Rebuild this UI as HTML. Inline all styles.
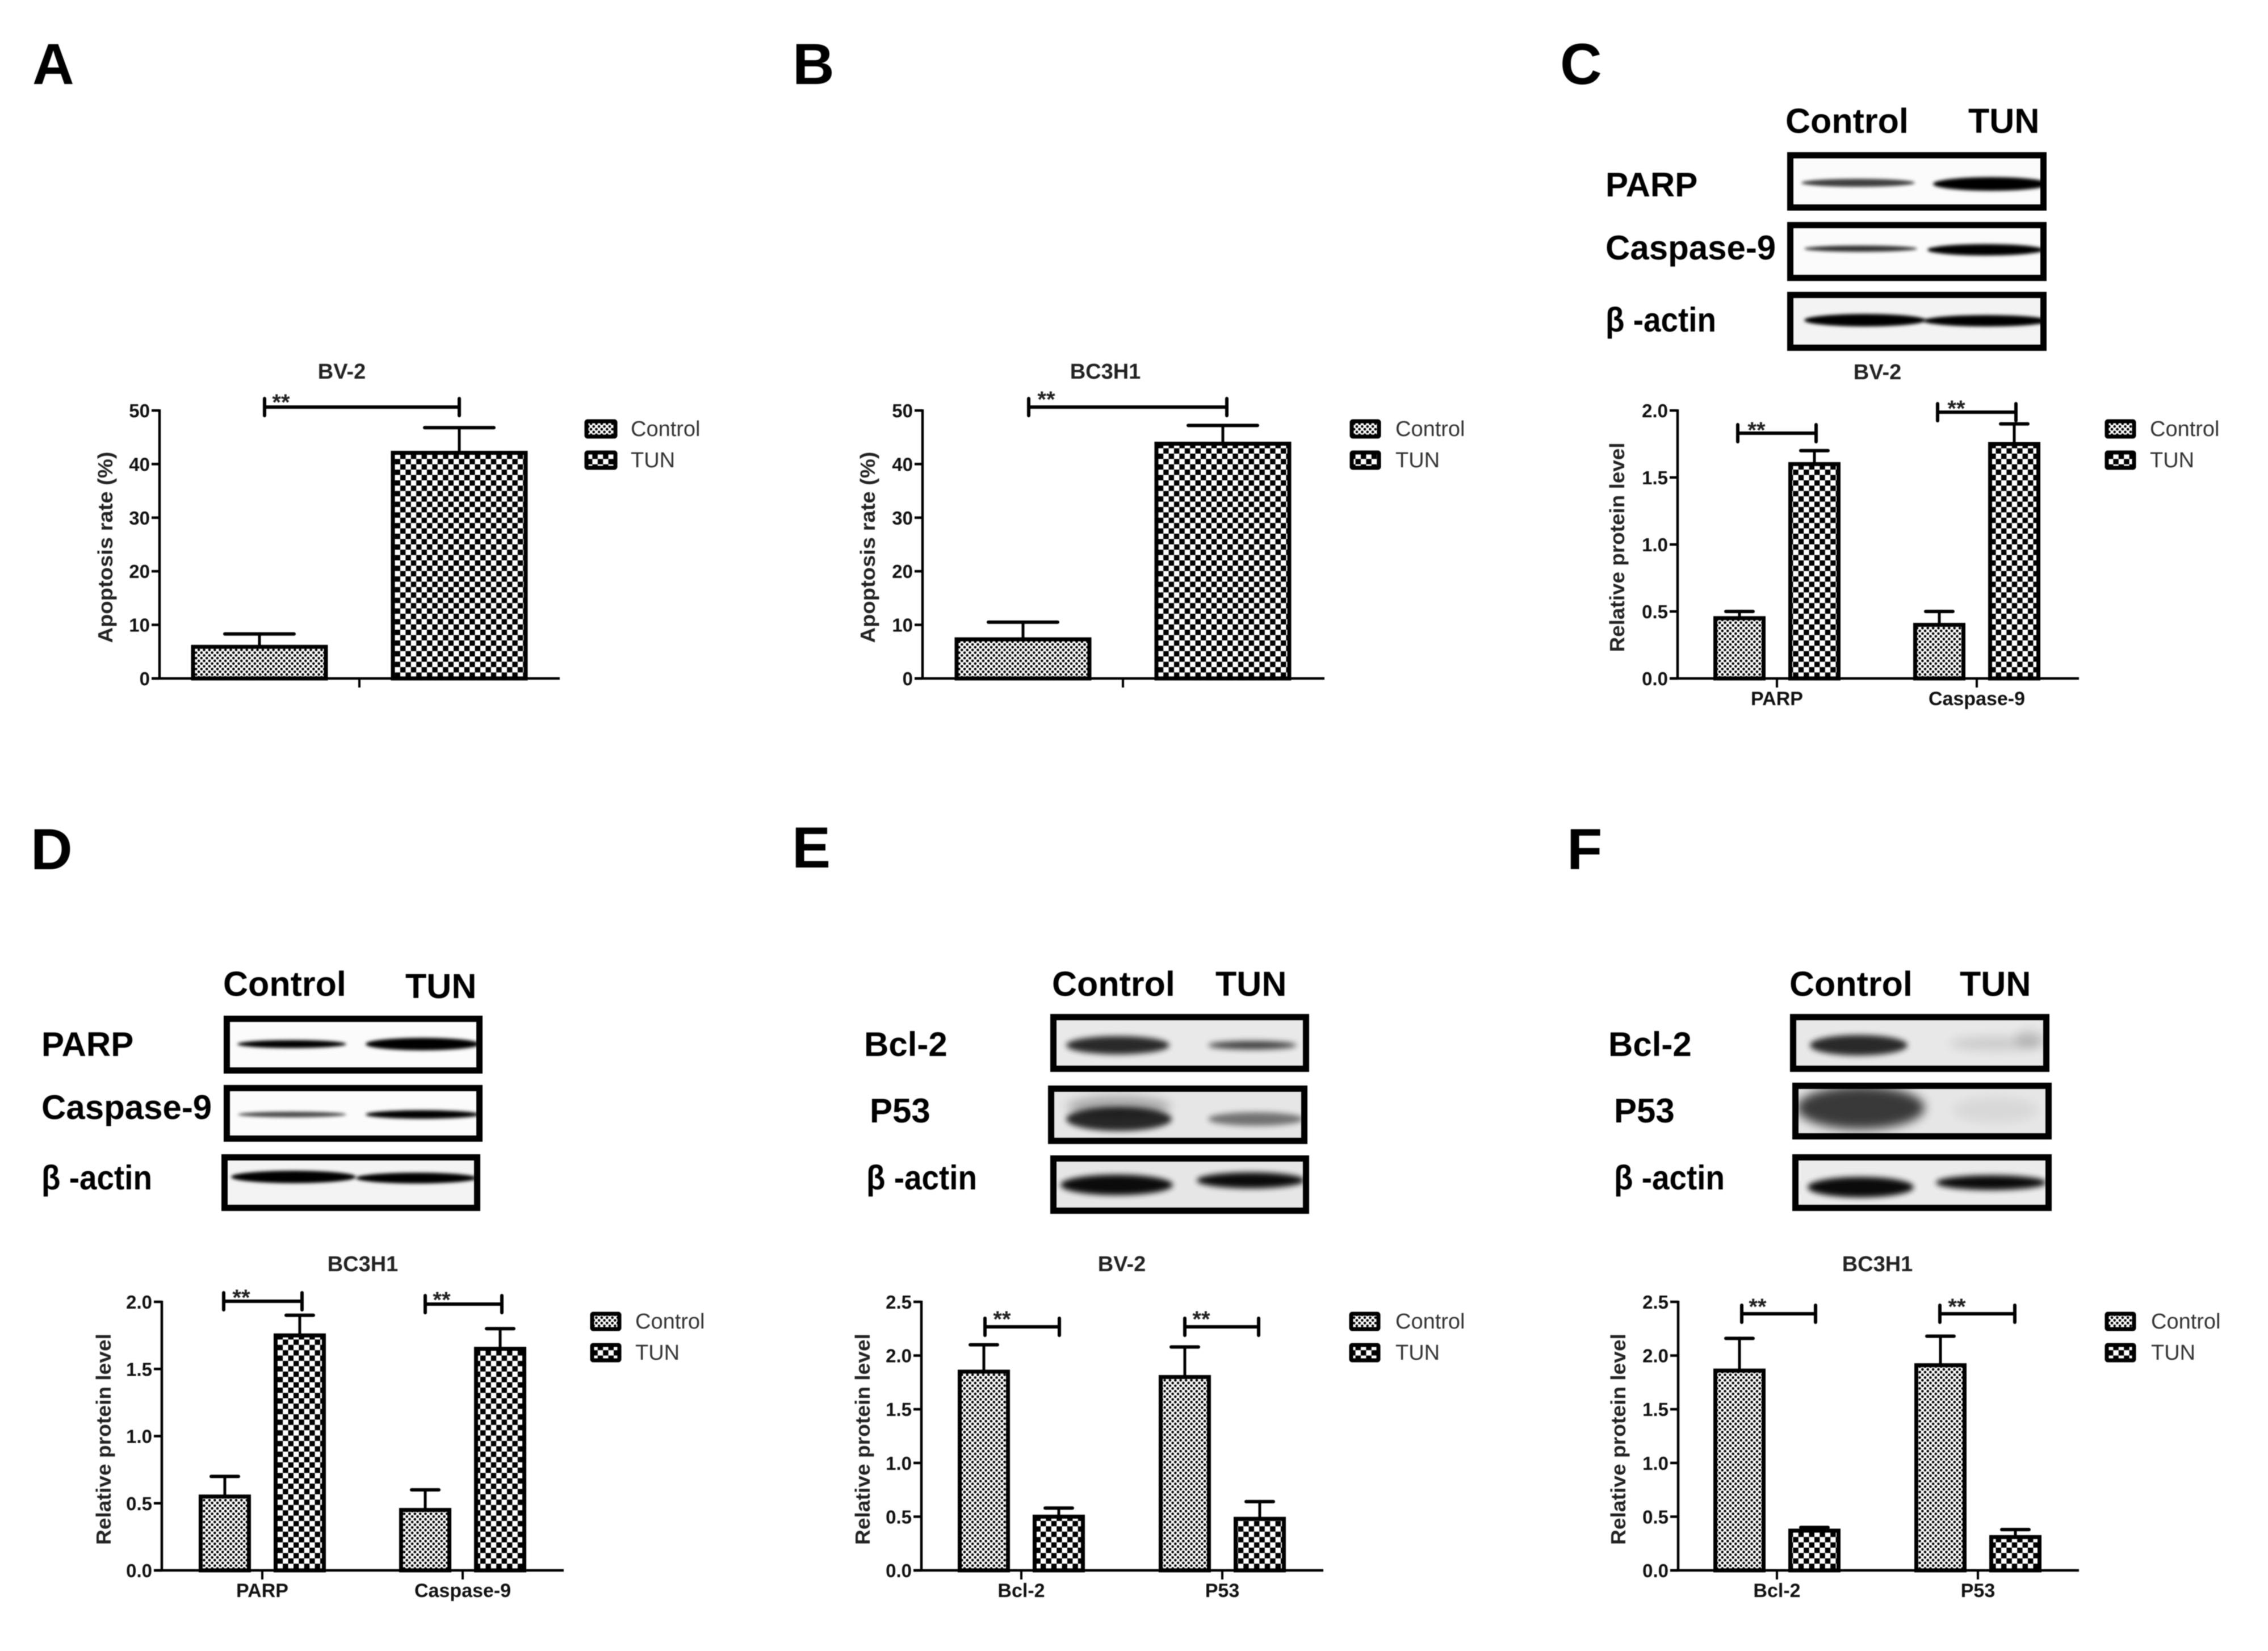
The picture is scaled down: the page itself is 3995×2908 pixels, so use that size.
<!DOCTYPE html>
<html lang="en">
<head>
<meta charset="utf-8">
<title>Apoptosis and protein level panels</title>
<style>
html,body{margin:0;padding:0;background:#fff;}
#figure{display:block;width:3995px;height:2908px;filter:blur(0.7px);font-family:"Liberation Sans",sans-serif;}
.letter{font-size:102px;font-weight:700;fill:#000;}
.blot-head{font-size:61px;font-weight:700;fill:#000;}
.blot-label{font-size:60px;font-weight:700;fill:#000;}
.tick-label{font-size:33px;font-weight:700;fill:#111;}
.cat-label{font-size:34px;font-weight:700;fill:#111;}
.axis-title{font-size:36px;font-weight:700;fill:#222;}
.chart-title{font-size:38px;font-weight:700;fill:#222;}
.legend-text{font-size:38px;fill:#333;}
.stars{font-size:40px;font-weight:700;fill:#222;}
</style>
</head>
<body>
<svg id="figure" xmlns="http://www.w3.org/2000/svg" width="3995" height="2908" viewBox="0 0 3995 2908">
  <defs>
    <pattern id="fine" patternUnits="userSpaceOnUse" width="9.4" height="9.6">
      <rect width="9.4" height="9.6" fill="#fff"/>
      <circle cx="2.35" cy="2.4" r="2.3" fill="#000"/>
      <circle cx="7.05" cy="7.2" r="2.3" fill="#000"/>
    </pattern>
    <pattern id="coarse" patternUnits="userSpaceOnUse" width="18.8" height="18.8">
      <rect width="18.8" height="18.8" fill="#fff"/>
      <rect width="9.4" height="9.4" fill="#000"/>
      <rect x="9.4" y="9.4" width="9.4" height="9.4" fill="#000"/>
    </pattern>
    <filter id="bandBlur" x="-20%" y="-100%" width="140%" height="300%"><feGaussianBlur stdDeviation="3"/></filter>
    <filter id="softBand" x="-20%" y="-100%" width="140%" height="300%"><feGaussianBlur stdDeviation="5"/></filter>
    <filter id="softBlur" x="-20%" y="-100%" width="140%" height="300%"><feGaussianBlur stdDeviation="9"/></filter>
  </defs>

  <rect width="3995" height="2908" fill="#fff"/>

  <text class="letter" x="57" y="148">A</text>
  <text class="letter" x="1396" y="148">B</text>
  <text class="letter" x="2748" y="148">C</text>
  <text class="letter" x="54" y="1531">D</text>
  <text class="letter" x="1395" y="1528">E</text>
  <text class="letter" x="2760" y="1531">F</text>

  <g id="blots"></g>

  <g>
    <text class="blot-head" x="3145" y="234">Control</text>
    <text class="blot-head" x="3467" y="234">TUN</text>
    <text class="blot-label" x="2828" y="346">PARP</text>
    <text class="blot-label" x="2828" y="457">Caspase-9</text>
    <text class="blot-label" x="2828" y="584" textLength="195" lengthAdjust="spacingAndGlyphs">β -actin</text>
  </g>
  <g>
    <text class="blot-head" x="393" y="1754">Control</text>
    <text class="blot-head" x="714" y="1758">TUN</text>
    <text class="blot-label" x="73" y="1860">PARP</text>
    <text class="blot-label" x="73" y="1971">Caspase-9</text>
    <text class="blot-label" x="73" y="2095" textLength="195" lengthAdjust="spacingAndGlyphs">β -actin</text>
  </g>
  <g>
    <text class="blot-head" x="1853" y="1754">Control</text>
    <text class="blot-head" x="2141" y="1754">TUN</text>
    <text class="blot-label" x="1522" y="1860">Bcl-2</text>
    <text class="blot-label" x="1532" y="1977">P53</text>
    <text class="blot-label" x="1526" y="2095" textLength="195" lengthAdjust="spacingAndGlyphs">β -actin</text>
  </g>
  <g>
    <text class="blot-head" x="3152" y="1754">Control</text>
    <text class="blot-head" x="3452" y="1754">TUN</text>
    <text class="blot-label" x="2833" y="1860">Bcl-2</text>
    <text class="blot-label" x="2843" y="1977">P53</text>
    <text class="blot-label" x="2843" y="2095" textLength="195" lengthAdjust="spacingAndGlyphs">β -actin</text>
  </g>

  <g id="charts"></g>
</svg>

<script>
// ---------- chart data ----------
const seriesNames = ["Control", "TUN"];

const panelACategories = [""];
const panelAControl = [5.9];
const panelATun = [42.1];
const panelAControlUpper = [8.3];
const panelATunUpper = [46.8];
const panelATicks = ["0", "10", "20", "30", "40", "50"];

const panelBCategories = [""];
const panelBControl = [7.3];
const panelBTun = [43.8];
const panelBControlUpper = [10.5];
const panelBTunUpper = [47.2];
const panelBTicks = ["0", "10", "20", "30", "40", "50"];

const panelCCategories = ["PARP", "Caspase-9"];
const panelCControl = [0.45, 0.4];
const panelCTun = [1.6, 1.75];
const panelCControlUpper = [0.5, 0.5];
const panelCTunUpper = [1.7, 1.9];
const panelCTicks = ["0.0", "0.5", "1.0", "1.5", "2.0"];

const panelDCategories = ["PARP", "Caspase-9"];
const panelDControl = [0.55, 0.45];
const panelDTun = [1.75, 1.65];
const panelDControlUpper = [0.7, 0.6];
const panelDTunUpper = [1.9, 1.8];
const panelDTicks = ["0.0", "0.5", "1.0", "1.5", "2.0"];

const panelECategories = ["Bcl-2", "P53"];
const panelEControl = [1.85, 1.8];
const panelETun = [0.5, 0.48];
const panelEControlUpper = [2.1, 2.08];
const panelETunUpper = [0.58, 0.64];
const panelETicks = ["0.0", "0.5", "1.0", "1.5", "2.0", "2.5"];

const panelFCategories = ["Bcl-2", "P53"];
const panelFControl = [1.86, 1.91];
const panelFTun = [0.37, 0.31];
const panelFControlUpper = [2.16, 2.18];
const panelFTunUpper = [0.4, 0.38];
const panelFTicks = ["0.0", "0.5", "1.0", "1.5", "2.0", "2.5"];

// ---------- chart definitions (data + layout) ----------
const charts = [
  {id:"a", title:"BV-2", yTitle:"Apoptosis rate (%)", cats:panelACategories, ctrl:panelAControl, tun:panelATun, ctrlUp:panelAControlUpper, tunUp:panelATunUpper, ticks:panelATicks,
   axisX:281, endX:986, y0:1195, yTop:723, groups:[633], off:176, barW:234, capHalf:61, titleX:602, titleY:667, yTitleX:198, yTitleCy:964, yTitleLen:337,
   legendX:1030, legendW:57, legendText:1111, legendY:739,
   brackets:[{x1:466,x2:809,y:717,h:15,sx:495,sy:722}]},
  {id:"b", title:"BC3H1", yTitle:"Apoptosis rate (%)", cats:panelBCategories, ctrl:panelBControl, tun:panelBTun, ctrlUp:panelBControlUpper, tunUp:panelBTunUpper, ticks:panelBTicks,
   axisX:1625, endX:2333, y0:1195, yTop:723, groups:[1978], off:176, barW:234, capHalf:61, titleX:1947, titleY:667, yTitleX:1541, yTitleCy:964, yTitleLen:337,
   legendX:2378, legendW:54, legendText:2458, legendY:739,
   brackets:[{x1:1812,x2:2161,y:717,h:15,sx:1843,sy:717}]},
  {id:"c", title:"BV-2", yTitle:"Relative protein level", cats:panelCCategories, ctrl:panelCControl, tun:panelCTun, ctrlUp:panelCControlUpper, tunUp:panelCTunUpper, ticks:panelCTicks,
   axisX:2955, endX:3662, y0:1195, yTop:723, groups:[3130,3482], off:66, barW:85, capHalf:24, titleX:3307, titleY:668, yTitleX:2861, yTitleCy:964, yTitleLen:369,
   legendX:3708, legendW:54, legendText:3787, legendY:739, catY:1242,
   brackets:[{x1:3061,x2:3199,y:763,h:15,sx:3094,sy:771},{x1:3413,x2:3551,y:726,h:15,sx:3446,sy:733}]},
  {id:"d", title:"BC3H1", yTitle:"Relative protein level", cats:panelDCategories, ctrl:panelDControl, tun:panelDTun, ctrlUp:panelDControlUpper, tunUp:panelDTunUpper, ticks:panelDTicks,
   axisX:285, endX:993, y0:2766, yTop:2293, groups:[462,815], off:66, barW:85, capHalf:24, titleX:639, titleY:2239, yTitleX:195, yTitleCy:2535, yTitleLen:372,
   legendX:1040, legendW:54, legendText:1119, legendY:2311, catY:2813,
   brackets:[{x1:394,x2:532,y:2292,h:15,sx:425,sy:2299},{x1:749,x2:884,y:2297,h:15,sx:778,sy:2303}]},
  {id:"e", title:"BV-2", yTitle:"Relative protein level", cats:panelECategories, ctrl:panelEControl, tun:panelETun, ctrlUp:panelEControlUpper, tunUp:panelETunUpper, ticks:panelETicks,
   axisX:1623, endX:2331, y0:2766, yTop:2293, groups:[1799,2153], off:66, barW:85, capHalf:24, titleX:1976, titleY:2239, yTitleX:1532, yTitleCy:2535, yTitleLen:372,
   legendX:2377, legendW:54, legendText:2458, legendY:2311, catY:2813,
   brackets:[{x1:1735,x2:1866,y:2337,h:15,sx:1765,sy:2337},{x1:2087,x2:2217,y:2337,h:15,sx:2116,sy:2337}]},
  {id:"f", title:"BC3H1", yTitle:"Relative protein level", cats:panelFCategories, ctrl:panelFControl, tun:panelFTun, ctrlUp:panelFControlUpper, tunUp:panelFTunUpper, ticks:panelFTicks,
   axisX:2956, endX:3662, y0:2766, yTop:2293, groups:[3130,3484], off:66, barW:85, capHalf:24, titleX:3307, titleY:2239, yTitleX:2863, yTitleCy:2535, yTitleLen:372,
   legendX:3708, legendW:54, legendText:3789, legendY:2311, catY:2813,
   brackets:[{x1:3068,x2:3198,y:2314,h:15,sx:3096,sy:2315},{x1:3417,x2:3549,y:2314,h:15,sx:3447,sy:2315}]}
];

// ---------- western blot image stand-ins (not chart data) ----------
const blots = [
 {p:"c",x:3148,y:268,w:457,h:103,bg:"#fbfbfb",bands:[[3173,3373,322,12,.75],[3405,3610,324,22,1]]},
 {p:"c",x:3148,y:391,w:457,h:104,bg:"#fbfbfb",bands:[[3178,3377,438,9,.8],[3395,3600,440,18,1]]},
 {p:"c",x:3148,y:514,w:457,h:104,bg:"#f3f3f3",bands:[[3178,3392,564,20,1],[3388,3610,565,18,1]]},
 {p:"d",x:394,y:1789,w:456,h:102,bg:"#fbfbfb",bands:[[418,610,1839,12,1],[644,845,1839,20,1]]},
 {p:"d",x:394,y:1911,w:456,h:100,bg:"#fbfbfb",bands:[[419,610,1963,8,.7],[644,845,1963,13,1]]},
 {p:"d",x:390,y:2033,w:456,h:100,bg:"#f3f3f3",bands:[[407,627,2073,20,1],[627,840,2075,17,1]]},
 {p:"e",x:1850,y:1786,w:456,h:102,bg:"#e9e9e9",smooth:true,bands:[[1878,2060,1841,30,.82],[2128,2284,1841,13,.72]]},
 {p:"e",x:1846,y:1912,w:457,h:103,bg:"#e6e6e6",smooth:true,soft:[[1880,2062,1950,38,.28]],bands:[[1878,2064,1971,40,.82],[2128,2296,1971,22,.5]]},
 {p:"e",x:1850,y:2035,w:456,h:103,bg:"#e6e6e6",smooth:true,bands:[[1868,2066,2087,34,.95],[2108,2298,2079,26,.95]]},
 {p:"f",x:3153,y:1786,w:457,h:102,bg:"#e8e8e8",smooth:true,soft:[[3434,3600,1838,24,.12],[3550,3600,1830,30,.15]],bands:[[3188,3360,1841,34,.82]]},
 {p:"f",x:3157,y:1907,w:457,h:100,bg:"#e6e6e6",soft:[[3440,3590,1955,44,.06],[3165,3390,1951,76,.75]],bands:[]},
 {p:"f",x:3157,y:2033,w:457,h:100,bg:"#ebebeb",smooth:true,bands:[[3184,3371,2091,34,.95],[3410,3605,2083,24,.95]]}
];

const NS = "http://www.w3.org/2000/svg";
function mk(tag, attrs, parent){
  const el = document.createElementNS(NS, tag);
  for (const k in attrs) el.setAttribute(k, attrs[k]);
  parent.appendChild(el);
  return el;
}

// ---------- blots ----------
const blotRoot = document.getElementById("blots");
const defs = document.querySelector("#figure defs");
blots.forEach(function(b, i){
  const clip = mk("clipPath", {id:"blotclip"+i}, defs);
  mk("rect", {x:b.x, y:b.y, width:b.w, height:b.h}, clip);

  const g = mk("g", {"clip-path":"url(#blotclip"+i+")"}, blotRoot);
  
  
  mk("rect", {x:b.x, y:b.y, width:b.w, height:b.h, fill:b.bg}, g);
  (b.soft || []).forEach(function(s){
    mk("ellipse", {cx:(s[0]+s[1])/2, cy:s[2], rx:(s[1]-s[0])/2, ry:s[3]/2, fill:"#000", opacity:s[4], filter:"url(#softBlur)"}, g);
  });
  b.bands.forEach(function(s){
    const band = mk("ellipse", {cx:(s[0]+s[1])/2, cy:s[2], rx:(s[1]-s[0])/2, ry:s[3]/2+1, fill:"#000", opacity:s[4], filter:b.smooth ? "url(#softBand)" : "url(#bandBlur)"}, g);
    
    
  });
  const frame = mk("rect", {x:b.x+5.5, y:b.y+5.5, width:b.w-11, height:b.h-11, fill:"none", stroke:"#000", "stroke-width":11}, blotRoot);
  
  
});

// ---------- charts ----------
const chartRoot = document.getElementById("charts");

function yScale(c, v){
  const max = parseFloat(c.ticks[c.ticks.length - 1]);
  return c.y0 - (v / max) * (c.y0 - c.yTop);
}
function xScale(c, group, series){
  return c.groups[group] + (series === 0 ? -c.off : c.off);
}

charts.forEach(function(c){
  const g = mk("g", {}, chartRoot);
  
  

  // title
  const title = mk("text", {x:c.titleX, y:c.titleY, "text-anchor":"middle", class:"chart-title"}, g);
  title.textContent = c.title;
  
  

  // y axis title
  const yt = mk("text", {x:0, y:0, "text-anchor":"middle", class:"axis-title", textLength:c.yTitleLen, lengthAdjust:"spacingAndGlyphs",
    transform:"translate("+c.yTitleX+","+c.yTitleCy+") rotate(-90)"}, g);
  yt.textContent = c.yTitle;
  
  

  // bars and error bars
  [c.ctrl, c.tun].forEach(function(values, s){
    const uppers = s === 0 ? c.ctrlUp : c.tunUp;
    values.forEach(function(v, i){
      const cx = xScale(c, i, s);
      const top = yScale(c, v);
      const upper = yScale(c, uppers[i]);

      const stem = mk("line", {x1:cx, x2:cx, y1:top, y2:upper, stroke:"#000", "stroke-width":5}, g);
      
      

      const cap = mk("line", {x1:cx-c.capHalf, x2:cx+c.capHalf, y1:upper, y2:upper, stroke:"#000", "stroke-width":6, "stroke-linecap":"round"}, g);
      
      

      const bar = mk("rect", {x:cx-c.barW/2, y:top, width:c.barW, height:c.y0-top,
        fill:s === 0 ? "url(#fine)" : "url(#coarse)", stroke:"#000", "stroke-width":7}, g);
      
      
    });
  });

  // y axis
  const yAxis = mk("line", {x1:c.axisX, x2:c.axisX, y1:c.yTop-2, y2:c.y0+2, stroke:"#000", "stroke-width":4.5}, g);
  
  

  c.ticks.forEach(function(t){
    const y = yScale(c, parseFloat(t));
    const tick = mk("line", {x1:c.axisX-14, x2:c.axisX, y1:y, y2:y, stroke:"#000", "stroke-width":4.5}, g);
    
    

    const label = mk("text", {x:c.axisX-17, y:y+12, "text-anchor":"end", class:"tick-label"}, g);
    label.textContent = t;
    
    
  });

  // x axis
  const xAxis = mk("line", {x1:c.axisX-14, x2:c.endX, y1:c.y0, y2:c.y0, stroke:"#000", "stroke-width":4.5}, g);
  
  

  c.cats.forEach(function(name, i){
    const tick = mk("line", {x1:c.groups[i], x2:c.groups[i], y1:c.y0, y2:c.y0+16, stroke:"#000", "stroke-width":4}, g);
    
    
    if (name) {
      const lab = mk("text", {x:c.groups[i], y:c.catY, "text-anchor":"middle", class:"cat-label"}, g);
      lab.textContent = name;
      
      
    }
  });

  // significance brackets
  c.brackets.forEach(function(b){
    const d = "M"+b.x1+" "+(b.y-b.h)+"V"+(b.y+b.h)+"M"+b.x1+" "+b.y+"H"+b.x2+"M"+b.x2+" "+(b.y-b.h)+"V"+(b.y+b.h);
    const path = mk("path", {d:d, fill:"none", stroke:"#000", "stroke-width":6, "stroke-linecap":"round"}, g);
    
    

    const stars = mk("text", {x:b.sx, y:b.sy, "text-anchor":"middle", class:"stars"}, g);
    stars.textContent = "**";
    
    
  });

  // legend
  seriesNames.forEach(function(name, s){
    const top = c.legendY + s * 55;
    const swatch = mk("rect", {x:c.legendX+3, y:top+3, width:c.legendW-6, height:27, rx:2,
      fill:s === 0 ? "url(#fine)" : "url(#coarse)", stroke:"#000", "stroke-width":7}, g);
    
    

    const txt = mk("text", {x:c.legendText, y:top+29, class:"legend-text"}, g);
    txt.textContent = name;
    
    
  });
});
</script>
</body>
</html>
